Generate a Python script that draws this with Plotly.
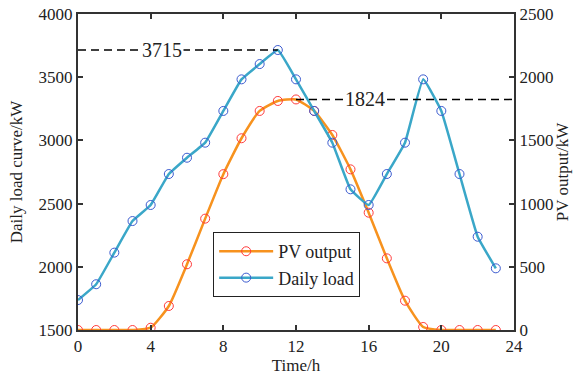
import plotly.graph_objects as go

hours = list(range(24))
daily_load = [1737, 1862, 2112, 2362, 2489, 2734, 2863, 2982, 3233, 3483, 3604, 3715,
              3483, 3233, 2982, 2613, 2489, 2734, 2982, 3483, 3233, 2734, 2238, 1988]
pv_output = [0, 0, 0, 0, 18, 190, 520, 881, 1233, 1517, 1733, 1812,
             1824, 1733, 1543, 1271, 928, 567, 232, 24, 0, 0, 0, 0]
x_ticks = [0, 4, 8, 12, 16, 20, 24]
load_ticks = [1500, 2000, 2500, 3000, 3500, 4000]
pv_ticks = [0, 500, 1000, 1500, 2000, 2500]
peak_load = 3715
peak_pv = 1824
peak_load_hour = 11
peak_pv_hour = 12

FONT = "Liberation Serif, Times New Roman, serif"
ORANGE = "#F7921E"
BLUE = "#3AA7C8"

fig = go.Figure()
fig.add_trace(go.Scatter(
    x=hours, y=pv_output, name="PV output", yaxis="y",
    mode="lines+markers",
    line=dict(color=ORANGE, width=2.5, shape="spline", smoothing=0.5),
    marker=dict(symbol="circle-open", color="#FF3B3B", size=9, line=dict(width=1)),
))
fig.add_trace(go.Scatter(
    x=hours, y=daily_load, name="Daily load", yaxis="y2",
    mode="lines+markers",
    line=dict(color=BLUE, width=2.5, shape="spline", smoothing=0.3),
    marker=dict(symbol="circle-open", color="#3B5BD0", size=9, line=dict(width=1)),
))

# dashed reference lines
fig.add_shape(type="line", xref="x", yref="y2", x0=0, x1=peak_load_hour,
              y0=peak_load, y1=peak_load, line=dict(color="black", width=1.5, dash="8px,5px"))
fig.add_shape(type="line", xref="x", yref="y", x0=peak_pv_hour, x1=24,
              y0=peak_pv, y1=peak_pv, line=dict(color="black", width=1.5, dash="8px,5px"))
fig.add_annotation(x=4.6, y=peak_load, xref="x", yref="y2", text=str(peak_load),
                   showarrow=False, bgcolor="white", font=dict(family=FONT, size=20, color="#222"),
                   borderpad=1)
fig.add_annotation(x=15.8, y=peak_pv, xref="x", yref="y", text=str(peak_pv),
                   showarrow=False, bgcolor="white", font=dict(family=FONT, size=20, color="#222"),
                   borderpad=1)

axis_common = dict(showline=True, linecolor="#333", linewidth=2, ticks="inside",
                   ticklen=5, tickwidth=1.5, tickcolor="#333", showgrid=False, zeroline=False,
                   automargin=False,
                   tickfont=dict(family=FONT, size=17, color="#222"))

fig.update_layout(
    width=577, height=379,
    margin=dict(l=78, r=63, t=14, b=49),
    paper_bgcolor="white", plot_bgcolor="white",
    font=dict(family=FONT, color="#222"),
    xaxis=dict(range=[0, 24], tickvals=x_ticks, mirror="ticks",
               title=dict(text="Time/h", font=dict(family=FONT, size=17), standoff=0),
               **axis_common),
    yaxis=dict(range=[0, 2500], tickvals=pv_ticks, side="right",
               title=dict(text="PV output/kW", font=dict(family=FONT, size=17), standoff=0),
               **axis_common),
    yaxis2=dict(range=[1500, 4000], tickvals=load_ticks, side="left", overlaying="y",
                title=dict(text="Daily load curve/kW", font=dict(family=FONT, size=17), standoff=12),
                **axis_common),
    legend=dict(x=0.31, y=0.31, xanchor="left", yanchor="top",
                bordercolor="#222", borderwidth=1, bgcolor="white", itemwidth=54,
                font=dict(family=FONT, size=18), tracegroupgap=0),
    showlegend=True,
)

fig.write_html(
    "out.html",
    config={"displayModeBar": False},
    post_script="document.body.style.margin='0px';document.body.style.overflow='hidden';",
)
